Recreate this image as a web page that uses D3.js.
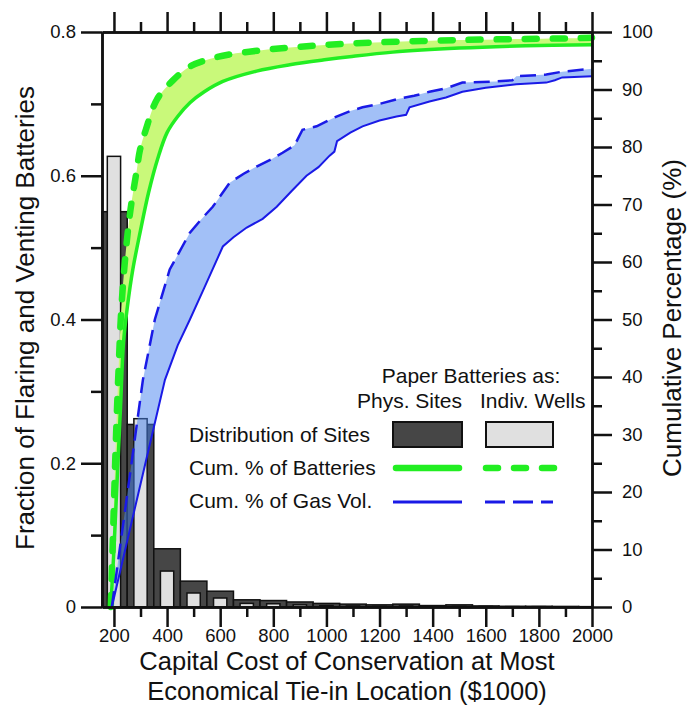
<!DOCTYPE html>
<html>
<head>
<meta charset="utf-8">
<script src="https://cdn.jsdelivr.net/npm/d3@7"></script>
<style>
body { margin: 0; background: #fff; }
svg text { font-family: "Liberation Sans", Arial, sans-serif; fill: #111; }
</style>
</head>
<body>
<div id="chart"></div>
<script>
// distribution of sites, bins of $100k centred on these costs
const binCentres = [200, 300, 400, 500, 600, 700, 800, 900, 1000, 1100, 1200, 1300, 1400, 1500, 1600, 1700, 1800, 1900, 2000];
const fracPhysSites = [0.55, 0.254, 0.081, 0.036, 0.022, 0.010, 0.009, 0.007, 0.005, 0.004, 0.003, 0.004, 0.002, 0.003, 0.0015, 0.001, 0.001, 0.0008, 0.0005];
const fracIndivWells = [0.627, 0.262, 0.050, 0.0195, 0.0125, 0.005, 0.0045, 0.003, 0.002, 0.0015, 0.001, 0.0015, 0.001, 0.001, 0.0008, 0.0005, 0.0005, 0.0003, 0.0003];

// cumulative % curves: [cost ($1000), percent]
const batteriesPhys = [[188,0],[200,10],[212,22],[225,35],[236,46],[250,52],[271,58.7],[300,65.5],[330,72],[365,78],[400,82.5],[440,85.3],[486,87.7],[540,89.6],[610,91.4],[737,93.2],[862,94.3],[1000,95.2],[1087,95.7],[1250,96.5],[1500,97.2],[1750,97.6],[2000,97.8]];
const batteriesWells = [[188,0],[198,15],[208,30],[218,42],[228,52],[245,62],[262,69],[286,76],[298,79.5],[320,83],[362,88.3],[420,91.5],[486,94],[560,95.3],[636,96.1],[750,96.8],[862,97.3],[1087,98],[1500,98.6],[1914,98.9],[2000,99]];
const gasPhys = [[192,0],[292,19.8],[392,39.5],[440,45.5],[486,50],[540,55.5],[610,62.7],[650,64.3],[700,66],[760,67.5],[813,69.6],[870,72.4],[925,75],[970,76.5],[1012,78.5],[1030,79.2],[1040,81],[1090,82.5],[1136,83.6],[1200,84.6],[1264,85.3],[1300,85.6],[1313,86.9],[1388,87.9],[1450,88.6],[1512,89.6],[1600,90.3],[1715,90.9],[1828,91.2],[1860,91.6],[1888,92.1],[2000,92.3]];
const gasWells = [[192,0],[309,39.5],[354,50],[410,58.7],[486,65.1],[530,67.5],[572,69.6],[636,73.8],[690,75.4],[737,76.6],[790,77.8],[835,79],[880,80.3],[910,83],[963,83.6],[1038,85.3],[1087,86.2],[1136,86.9],[1200,87.5],[1264,88.3],[1330,88.9],[1388,89.6],[1450,90.2],[1512,91.2],[1640,91.4],[1700,91.6],[1715,92.3],[1828,92.6],[1888,93.1],[2000,93.6]];

// tick values
const xMajorTicks = [200, 400, 600, 800, 1000, 1200, 1400, 1600, 1800, 2000];
const xMinorTicks = [300, 500, 700, 900, 1100, 1300, 1500, 1700, 1900];
const fracMajorTicks = [0, 0.2, 0.4, 0.6, 0.8];
const fracMinorTicks = [0.1, 0.3, 0.5, 0.7];
const pctMajorTicks = [0, 10, 20, 30, 40, 50, 60, 70, 80, 90, 100];
const pctMinorTicks = [5, 15, 25, 35, 45, 55, 65, 75, 85, 95];

const margin = {top: 32, right: 96, bottom: 109, left: 102},
    width = 688 - margin.left - margin.right,
    height = 716 - margin.top - margin.bottom;

const svg = d3.select("#chart")
    .append("svg")
    .attr("width", 688)
    .attr("height", 716)
    .append("g")
    .attr("transform", `translate(${margin.left},${margin.top})`);

const x = d3.scaleLinear().domain([155, 2000]).range([0, width]).clamp(true);
const yFrac = d3.scaleLinear().domain([0, 0.8]).range([height, 0]);
const yPct = d3.scaleLinear().domain([0, 100]).range([height, 0]);

const bins = binCentres.map((c, i) => ({c: c, phys: fracPhysSites[i], wells: fracIndivWells[i]}));

svg.selectAll(".bar.phys")
    .data(bins)
    .enter()
    .append("rect")
    .attr("class", "bar phys")
    .attr("x", d => x(d.c - 50))
    .attr("width", d => x(d.c + 50) - x(d.c - 50))
    .attr("y", d => yFrac(d.phys))
    .attr("height", d => height - yFrac(d.phys))
    .style("fill", "#464646")
    .style("stroke", "#111")
    .style("stroke-width", 1.5);

svg.selectAll(".bar.wells")
    .data(bins)
    .enter()
    .append("rect")
    .attr("class", "bar wells")
    .attr("x", d => x(d.c - 25))
    .attr("width", d => x(d.c + 25) - x(d.c - 25))
    .attr("y", d => yFrac(d.wells))
    .attr("height", d => height - yFrac(d.wells))
    .style("fill", "#e0e0e0")
    .style("stroke", "#111")
    .style("stroke-width", 1.5);

const smooth = d3.curveCatmullRom.alpha(0.5);
const lineFor = curve => d3.line().x(d => x(d[0])).y(d => yPct(d[1])).curve(curve);

function band(a, b, curve) {
    const l = lineFor(curve);
    return l(a) + l(b.slice().reverse()).replace(/^M/, "L") + "Z";
}

svg.append("path")
    .attr("d", band(batteriesPhys, batteriesWells, smooth))
    .style("fill", "#c9f97a")
    .style("stroke", "none");

svg.append("path")
    .attr("d", band(gasPhys, gasWells, d3.curveLinear))
    .style("fill", "rgba(70,130,240,0.5)")
    .style("stroke", "none");

svg.append("path")
    .attr("d", lineFor(smooth)(batteriesPhys))
    .style("fill", "none")
    .style("stroke", "#22ee22")
    .style("stroke-width", 3.5);

svg.append("path")
    .attr("d", lineFor(smooth)(batteriesWells))
    .style("fill", "none")
    .style("stroke", "#22ee22")
    .style("stroke-width", 6.5)
    .style("stroke-linecap", "round")
    .style("stroke-dasharray", "12,16");

svg.append("path")
    .attr("d", lineFor(d3.curveLinear)(gasPhys))
    .style("fill", "none")
    .style("stroke", "#1a1ae6")
    .style("stroke-width", 2);

svg.append("path")
    .attr("d", lineFor(d3.curveLinear)(gasWells))
    .style("fill", "none")
    .style("stroke", "#1a1ae6")
    .style("stroke-width", 2.5)
    .style("stroke-dasharray", "16,8");

// axes
function styleAxis(g) {
    g.selectAll(".domain, .tick line").style("stroke", "#111").style("stroke-width", 2.5);
    g.selectAll(".tick text").style("font-size", "18.5px").style("fill", "#111");
}

svg.append("g")
    .attr("transform", `translate(0,${height})`)
    .call(d3.axisBottom(x).tickValues(xMajorTicks).tickSize(20).tickSizeOuter(0).tickPadding(2)
        .tickFormat(d3.format("d")))
    .call(styleAxis);
svg.append("g")
    .attr("transform", `translate(0,${height})`)
    .call(d3.axisBottom(x).tickValues(xMinorTicks).tickSize(10).tickSizeOuter(0).tickFormat(""))
    .call(styleAxis);

svg.append("g")
    .call(d3.axisTop(x).tickValues(xMajorTicks).tickSize(20).tickSizeOuter(0).tickFormat(""))
    .call(styleAxis);
svg.append("g")
    .call(d3.axisTop(x).tickValues(xMinorTicks).tickSize(10).tickSizeOuter(0).tickFormat(""))
    .call(styleAxis);

svg.append("g")
    .call(d3.axisLeft(yFrac).tickValues(fracMajorTicks).tickSize(21).tickSizeOuter(0).tickPadding(5)
        .tickFormat(d => d === 0 ? "0" : d3.format(".1f")(d)))
    .call(styleAxis);
svg.append("g")
    .call(d3.axisLeft(yFrac).tickValues(fracMinorTicks).tickSize(11).tickSizeOuter(0).tickFormat(""))
    .call(styleAxis);

svg.append("g")
    .attr("transform", `translate(${width},0)`)
    .call(d3.axisRight(yPct).tickValues(pctMajorTicks).tickSize(20).tickSizeOuter(0).tickPadding(10))
    .call(styleAxis);
svg.append("g")
    .attr("transform", `translate(${width},0)`)
    .call(d3.axisRight(yPct).tickValues(pctMinorTicks).tickSize(10).tickSizeOuter(0).tickFormat(""))
    .call(styleAxis);

// axis titles
const root = d3.select("#chart svg");

root.append("text")
    .attr("transform", "translate(34,318) rotate(-90)")
    .attr("text-anchor", "middle")
    .style("font-size", "26px")
    .text("Fraction of Flaring and Venting Batteries");

root.append("text")
    .attr("transform", "translate(681,318) rotate(-90)")
    .attr("text-anchor", "middle")
    .style("font-size", "26px")
    .text("Cumulative Percentage (%)");

root.append("text")
    .attr("x", 347)
    .attr("y", 670)
    .attr("text-anchor", "middle")
    .style("font-size", "25.5px")
    .text("Capital Cost of Conservation at Most");

root.append("text")
    .attr("x", 347)
    .attr("y", 700)
    .attr("text-anchor", "middle")
    .style("font-size", "25.5px")
    .text("Economical Tie-in Location ($1000)");

// legend
const legend = root.append("g");

legend.append("text").attr("x", 471).attr("y", 383).attr("text-anchor", "middle")
    .style("font-size", "21px").text("Paper Batteries as:");
legend.append("text").attr("x", 357).attr("y", 408)
    .style("font-size", "21px").text("Phys. Sites");
legend.append("text").attr("x", 480).attr("y", 408)
    .style("font-size", "21px").text("Indiv. Wells");

legend.append("text").attr("x", 189).attr("y", 442).style("font-size", "21px").text("Distribution of Sites");
legend.append("text").attr("x", 189).attr("y", 475).style("font-size", "21px").text("Cum. % of Batteries");
legend.append("text").attr("x", 189).attr("y", 508).style("font-size", "21px").text("Cum. % of Gas Vol.");

legend.append("rect").attr("x", 393).attr("y", 422).attr("width", 69).attr("height", 25)
    .style("fill", "#464646").style("stroke", "#111").style("stroke-width", 2);
legend.append("rect").attr("x", 486).attr("y", 422).attr("width", 67).attr("height", 25)
    .style("fill", "#e0e0e0").style("stroke", "#111").style("stroke-width", 2);

legend.append("line").attr("x1", 396).attr("x2", 459).attr("y1", 468).attr("y2", 468)
    .style("stroke", "#22ee22").style("stroke-width", 6.5).style("stroke-linecap", "round");
legend.append("line").attr("x1", 486).attr("x2", 556).attr("y1", 468).attr("y2", 468)
    .style("stroke", "#22ee22").style("stroke-width", 6.5).style("stroke-linecap", "round")
    .style("stroke-dasharray", "12,16");

legend.append("line").attr("x1", 393).attr("x2", 462).attr("y1", 502).attr("y2", 502)
    .style("stroke", "#1a1ae6").style("stroke-width", 3);
legend.append("line").attr("x1", 485).attr("x2", 553).attr("y1", 502).attr("y2", 502)
    .style("stroke", "#1a1ae6").style("stroke-width", 3).style("stroke-dasharray", "20,8");
</script>
</body>
</html>
